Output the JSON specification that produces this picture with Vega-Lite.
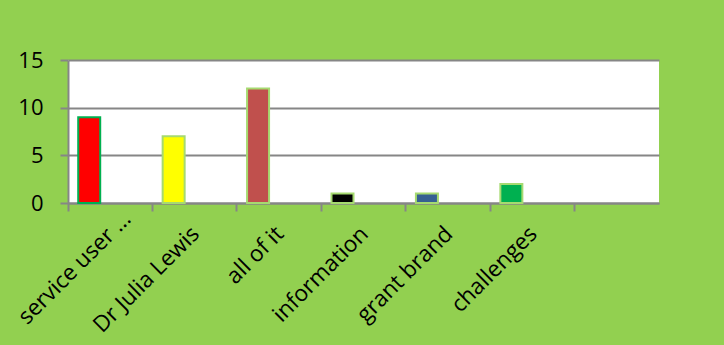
{
  "$schema": "https://vega.github.io/schema/vega-lite/v6.json",
  "autosize": {"type": "none"},
  "padding": {"left": 68, "top": 60, "right": 65, "bottom": 142},
  "width": 591,
  "height": 143,
  "background": "#92D050",
  "data": {
    "values": [
      {"label": "service user …", "value": 9},
      {"label": "Dr Julia Lewis", "value": 7},
      {"label": "all of it", "value": 12},
      {"label": "information", "value": 1},
      {"label": "grant brand", "value": 1},
      {"label": "challenges", "value": 2}
    ]
  },
  "mark": {"type": "bar", "width": 22, "xOffset": -21, "strokeWidth": 2},
  "encoding": {
    "x": {
      "field": "label",
      "type": "nominal",
      "sort": null,
      "scale": {
        "domain": ["service user …", "Dr Julia Lewis", "all of it", "information", "grant brand", "challenges", " "],
        "paddingInner": 0,
        "paddingOuter": 0
      },
      "axis": {
        "title": null,
        "bandPosition": 0,
        "labelOffset": {"condition": {"test": "datum.value === 'service user …'", "value": 17}, "value": 1},
        "labelAngle": -45,
        "labelAlign": "right",
        "labelBaseline": "middle",
        "labelPadding": {"condition": {"test": "datum.value === 'service user …'", "value": 4}, "value": 19},
        "tickSize": 8,
        "tickColor": "#868686",
        "tickWidth": 2,
        "domainColor": "#868686",
        "domainWidth": 2,
        "labelFont": "Open Sans",
        "labelFontSize": 22.5,
        "labelColor": "#000000",
        "grid": false
      }
    },
    "y": {
      "field": "value",
      "type": "quantitative",
      "scale": {"domain": [0, 15], "nice": false},
      "axis": {
        "title": null,
        "values": [0, 5, 10, 15],
        "tickSize": 8,
        "tickColor": "#868686",
        "tickWidth": 2,
        "domainColor": "#868686",
        "domainWidth": 2,
        "gridColor": "#868686",
        "gridWidth": 2,
        "gridOpacity": 1,
        "labelFont": "Open Sans",
        "labelFontSize": 22,
        "labelColor": "#000000",
        "labelPadding": 17
      }
    },
    "fill": {
      "field": "label",
      "type": "nominal",
      "legend": null,
      "scale": {
        "domain": ["service user …", "Dr Julia Lewis", "all of it", "information", "grant brand", "challenges"],
        "range": ["#FF0000", "#FFFF00", "#C0504D", "#000000", "#366092", "#00B050"]
      }
    },
    "stroke": {
      "field": "label",
      "type": "nominal",
      "legend": null,
      "scale": {
        "domain": ["service user …", "Dr Julia Lewis", "all of it", "information", "grant brand", "challenges"],
        "range": ["#00B050", "#A6DA70", "#A6DA70", "#A6DA70", "#A6DA70", "#A6DA70"]
      }
    }
  },
  "config": {
    "view": {"fill": "#FFFFFF", "stroke": null}
  }
}
